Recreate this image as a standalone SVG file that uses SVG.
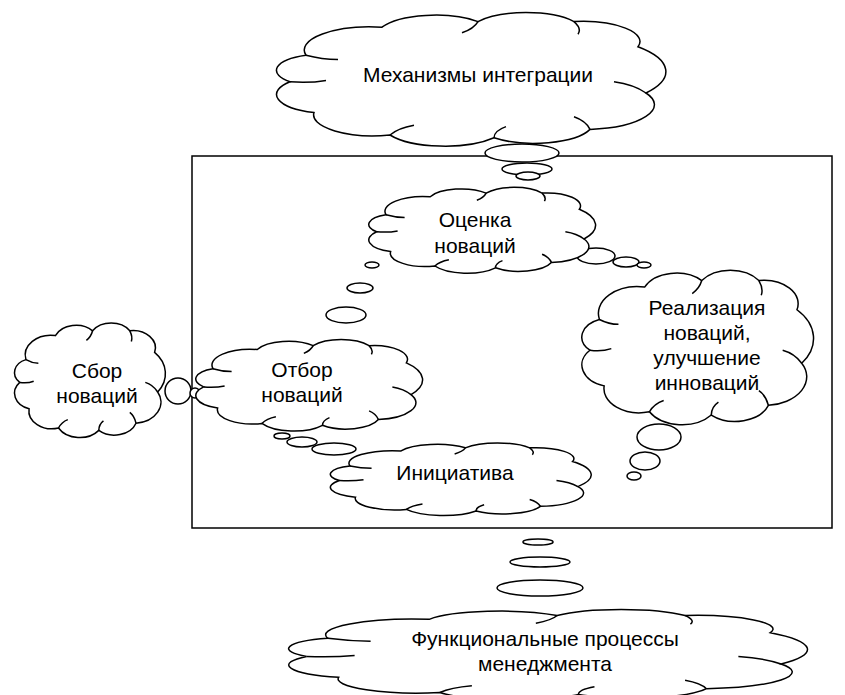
<svg xmlns="http://www.w3.org/2000/svg" xmlns:xlink="http://www.w3.org/1999/xlink" width="845" height="695" viewBox="0 0 845 695">
<style>
.ln{fill:none;stroke:#000;stroke-width:1.5;vector-effect:non-scaling-stroke}
.cl{fill:#fff;stroke:#000;stroke-width:1.5;vector-effect:non-scaling-stroke}
.bub{fill:#fff;stroke:#000;stroke-width:1.5}
.t{font-family:"Liberation Sans",Arial,sans-serif;font-size:21px;fill:#000;text-anchor:middle}
</style>
<defs>
<symbol id="cloud" viewBox="0 0 100 100" preserveAspectRatio="none" style="overflow:visible">
<path class="cl" d="M9,33 A16.5,16.5 0 0 1 28,13 A14.6,14.6 0 0 1 52,9 A14.4,14.4 0 0 1 76,9 A14.4,14.4 0 0 1 92,27 A26,26 0 0 1 94,60 A17.7,17.7 0 0 1 80,86 A14.8,14.8 0 0 1 56,92 A15.7,15.7 0 0 1 30,90 A14.9,14.9 0 0 1 11,74 A13.7,13.7 0 0 1 5,52 A11.6,11.6 0 0 1 9,33 Z"/>
<path class="ln" d="M9,33 Q13,36 17,36 M52,9 Q51,14 48,17 M76,9 Q78,14 77,18 M94,60 Q91,54 86,52 M80,86 Q79,80 76,77 M56,92 Q56,87 59,84 M30,90 Q32,85 36,83 M5,52 Q10,53 14,51"/>
</symbol>
</defs>
<rect x="192" y="156" width="640" height="372" fill="none" stroke="#000" stroke-width="1.5"/>
<g id="connectors">
<ellipse class="bub" cx="522" cy="153" rx="37" ry="9"/>
<ellipse class="bub" cx="527" cy="169" rx="25" ry="6"/>
<ellipse class="bub" cx="528" cy="176" rx="12" ry="4"/>
<ellipse class="bub" cx="596" cy="256" rx="19" ry="8"/>
<ellipse class="bub" cx="626" cy="262" rx="13" ry="5"/>
<ellipse class="bub" cx="644" cy="265" rx="7" ry="3"/>
<ellipse class="bub" cx="372" cy="265" rx="7" ry="3"/>
<ellipse class="bub" cx="360" cy="288" rx="13" ry="5"/>
<ellipse class="bub" cx="346" cy="315" rx="20" ry="8"/>
<circle class="bub" cx="178" cy="391" r="13"/>
<circle class="bub" cx="195" cy="393" r="5"/>
<ellipse class="bub" cx="282" cy="436" rx="8" ry="3"/>
<ellipse class="bub" cx="302" cy="442" rx="15" ry="5"/>
<ellipse class="bub" cx="334" cy="449" rx="22" ry="6"/>
<ellipse class="bub" cx="659" cy="437" rx="22" ry="13"/>
<ellipse class="bub" cx="645" cy="461" rx="15" ry="9"/>
<ellipse class="bub" cx="634" cy="476" rx="7" ry="4"/>
<ellipse class="bub" cx="538" cy="542" rx="15" ry="3"/>
<ellipse class="bub" cx="540" cy="562" rx="30" ry="5"/>
<ellipse class="bub" cx="540" cy="588" rx="43" ry="8"/>
</g>
<g id="mechanisms">
<use xlink:href="#cloud" x="270" y="9" width="400" height="140"/>
<text class="t" x="478" y="82">Механизмы интеграции</text>
</g>
<g id="evaluation">
<use xlink:href="#cloud" x="365" y="185" width="233" height="90"/>
<text class="t" x="475" y="227">Оценка</text>
<text class="t" x="475" y="253">новаций</text>
</g>
<g id="realization">
<use xlink:href="#cloud" x="578" y="266" width="238" height="162"/>
<text class="t" x="707" y="315">Реализация</text>
<text class="t" x="707" y="340">новаций,</text>
<text class="t" x="707" y="365">улучшение</text>
<text class="t" x="707" y="390">инноваций</text>
</g>
<g id="selection">
<use xlink:href="#cloud" x="192" y="337" width="233" height="96"/>
<text class="t" x="302" y="377">Отбор</text>
<text class="t" x="302" y="402">новаций</text>
</g>
<g id="collection">
<use xlink:href="#cloud" x="12" y="320" width="155" height="120"/>
<text class="t" x="97" y="378">Сбор</text>
<text class="t" x="97" y="403">новаций</text>
</g>
<g id="initiative">
<use xlink:href="#cloud" x="326" y="441" width="268" height="76"/>
<text class="t" x="455" y="480">Инициатива</text>
</g>
<g id="functional">
<use xlink:href="#cloud" x="280" y="607" width="533" height="95"/>
<text class="t" x="545" y="646">Функциональные процессы</text>
<text class="t" x="545" y="671">менеджмента</text>
</g>
</svg>
